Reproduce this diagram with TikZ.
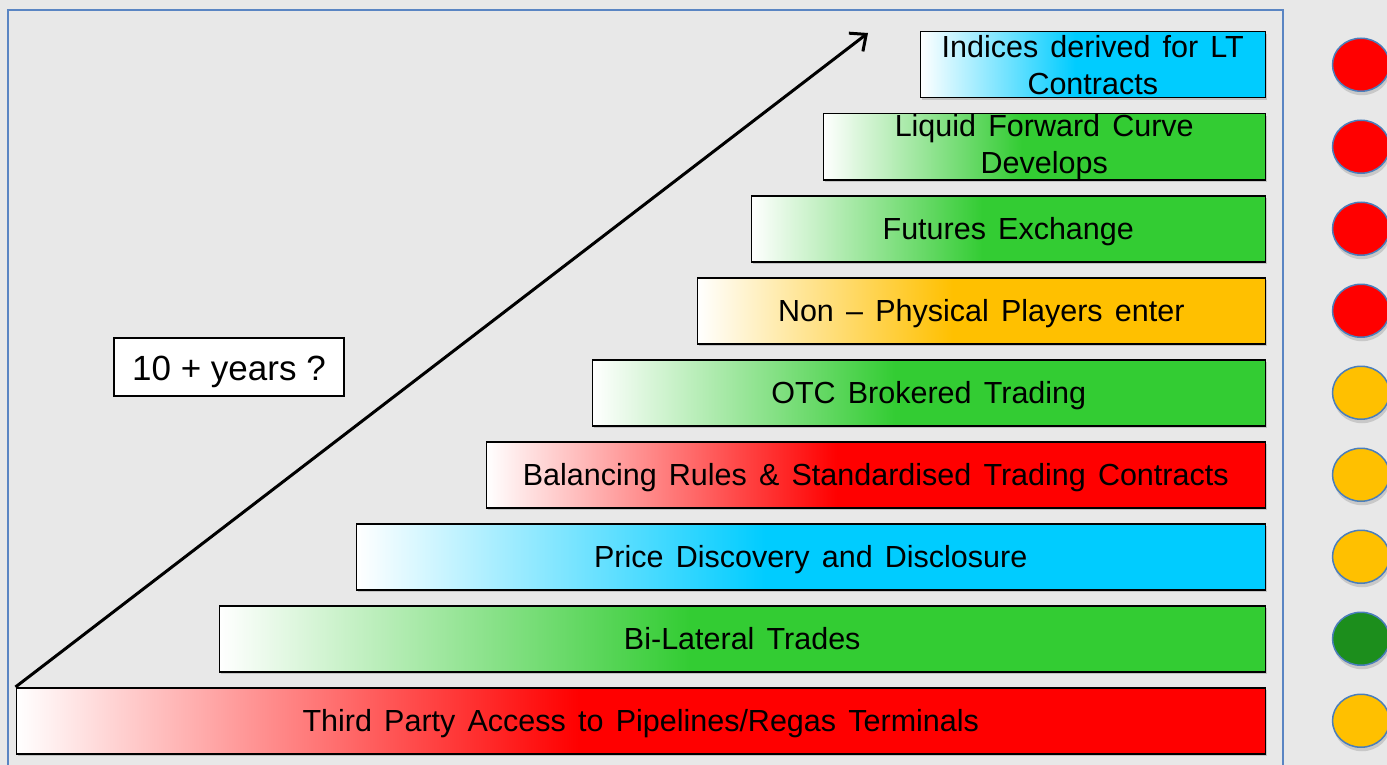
\documentclass[tikz,border=0pt]{standalone}
\usepackage{fontspec}
\setmainfont{Liberation Sans}
\usetikzlibrary{arrows.meta,shapes.geometric,shadows}

\definecolor{bggray}{HTML}{E8E8E8}
\definecolor{panelblue}{HTML}{5A85C3}
\definecolor{rimblue}{HTML}{4A7EBB}
\definecolor{barred}{HTML}{FF0000}
\definecolor{bargreen}{HTML}{33CC33}
\definecolor{barcyan}{HTML}{00CCFF}
\definecolor{barorange}{HTML}{FFC000}
\definecolor{lampgreen}{HTML}{1C8E1C}

\colorlet{rampcol}{white}
\pgfdeclarehorizontalshading[rampcol]{barramp}{100bp}{color(0bp)=(white); color(25bp)=(white); color(47.5bp)=(rampcol); color(100bp)=(rampcol)}

\newcommand\barfont{\fontsize{30.5}{37}\selectfont\spaceskip=0.4em\relax}

\begin{document}
\begin{tikzpicture}[x=1pt, y=-1pt,
  bar/.style={draw=black, line width=1.5pt, shading=barramp, /utils/exec={\colorlet{rampcol}{#1}},
    minimum height=66pt, inner sep=0pt, anchor=north east, align=center, font=\barfont,
    text height=22pt, text depth=0pt,
    drop shadow={shadow xshift=2pt, shadow yshift=-2pt, opacity=0.35}},
  twoline/.style={text height=, text depth=},
  lamp/.style={ellipse, draw=rimblue, line width=1.5pt, fill=#1, minimum width=57pt,
    minimum height=53pt, inner sep=0pt, drop shadow={shadow xshift=1pt, shadow yshift=-4pt, opacity=0.3}}]

  \newcommand\rightedge{1266};
  \newcommand\rowgap{82};

  \useasboundingbox (0,0) rectangle (1387,765);
  \fill[bggray] (0,0) rectangle (1387,765);
  \draw[panelblue, line width=2.5pt] (8,775) |- (1283,10) -- (1283,775);

  % the steps, bottom to top
  \node[bar=barred, minimum width=1249pt] (access) at (\rightedge, 687-0*\rowgap) {Third Party Access to Pipelines/Regas Terminals};
  \node[bar=bargreen, minimum width=1046pt] (bilateral) at (\rightedge, 687-1*\rowgap) {Bi-Lateral Trades};
  \node[bar=barcyan, minimum width=909pt] (discovery) at (\rightedge, 687-2*\rowgap) {Price Discovery and Disclosure};
  \node[bar=barred, minimum width=779pt] (balancing) at (\rightedge, 687-3*\rowgap) {Balancing Rules \& Standardised Trading Contracts};
  \node[bar=bargreen, minimum width=673pt] (otc) at (\rightedge, 687-4*\rowgap) {OTC Brokered Trading};
  \node[bar=barorange, minimum width=568pt] (nonphys) at (\rightedge, 687-5*\rowgap) {Non – Physical Players enter};
  \node[bar=bargreen, minimum width=514pt] (futures) at (\rightedge, 687-6*\rowgap) {Futures Exchange};
  \node[bar=bargreen, twoline, minimum width=442pt] (forward) at (\rightedge, 687-7*\rowgap) {Liquid Forward Curve\\Develops};
  \node[bar=barcyan, twoline, minimum width=345pt] (indices) at (\rightedge, 687-8*\rowgap) {Indices derived for LT\\Contracts};

  % status dots
  \node[lamp=barorange] (accessdot) at ([xshift=95pt]access.east) {};
  \node[lamp=lampgreen] (bilateraldot) at ([xshift=95pt]bilateral.east) {};
  \node[lamp=barorange] (discoverydot) at ([xshift=95pt]discovery.east) {};
  \node[lamp=barorange] (balancingdot) at ([xshift=95pt]balancing.east) {};
  \node[lamp=barorange] (otcdot) at ([xshift=95pt]otc.east) {};
  \node[lamp=barred] (nonphysdot) at ([xshift=95pt]nonphys.east) {};
  \node[lamp=barred] (futuresdot) at ([xshift=95pt]futures.east) {};
  \node[lamp=barred] (forwarddot) at ([xshift=95pt]forward.east) {};
  \node[lamp=barred] (indicesdot) at ([xshift=95pt]indices.east) {};

  \node[draw, line width=1.5pt, fill=white, minimum width=230pt, minimum height=58pt,
    inner sep=0pt, text height=26pt, text depth=0pt,
    font=\fontsize{35}{40}\selectfont] (years) at (229,367) {10 + years ?};

  \coordinate (tip) at (868,33);
  \draw[line width=3pt, -{Straight Barb[length=13pt,width=23pt]}] (access.north west) -- (tip); %% time axis
\end{tikzpicture}
\end{document}
